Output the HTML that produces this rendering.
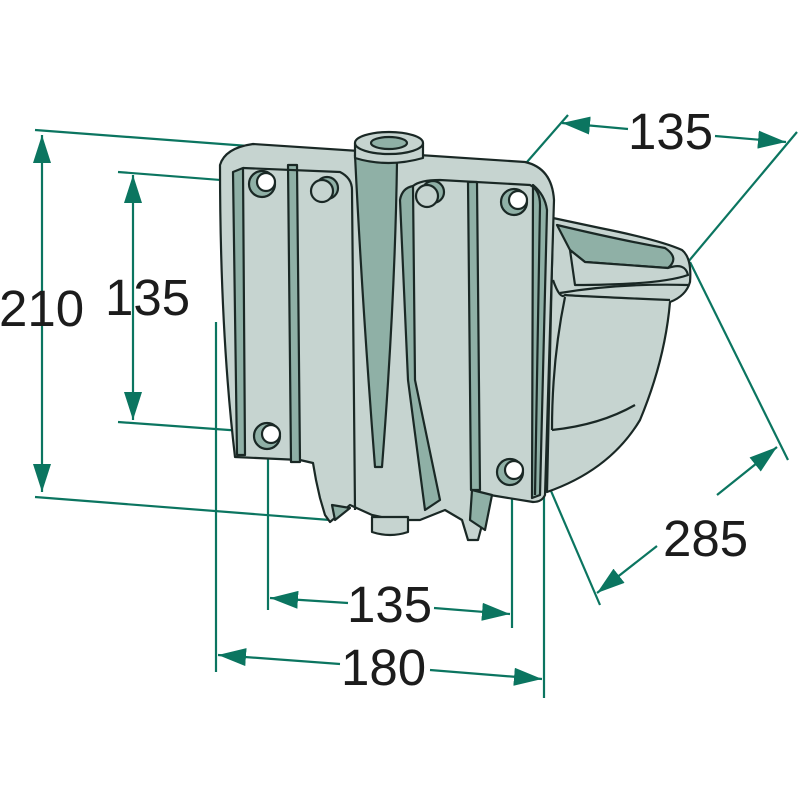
<!DOCTYPE html>
<html><head><style>body{margin:0;background:#fff}svg{display:block}</style></head><body>
<svg width="800" height="800" viewBox="0 0 800 800" xmlns="http://www.w3.org/2000/svg">
<defs>
<marker id="a" viewBox="0 0 28 18" refX="28" refY="9" markerWidth="28" markerHeight="18" markerUnits="userSpaceOnUse" orient="auto-start-reverse"><path d="M0,0 L28,9 L0,18 z" fill="#0b7560"/></marker>
</defs>
<g stroke="#0b7560" stroke-width="2.2" fill="none">
<line x1="35" y1="130" x2="262" y2="147"/>
<line x1="35" y1="497" x2="330" y2="520"/>
<line x1="42" y1="135" x2="42" y2="492" marker-start="url(#a)" marker-end="url(#a)"/>
<line x1="118" y1="172" x2="272" y2="184"/>
<line x1="118" y1="422" x2="270" y2="433"/>
<line x1="133" y1="175" x2="133" y2="420" marker-start="url(#a)" marker-end="url(#a)"/>
<line x1="268" y1="435" x2="268" y2="610"/>
<line x1="512" y1="468" x2="512" y2="628"/>
<line x1="270" y1="598" x2="348" y2="603" marker-start="url(#a)"/>
<line x1="434" y1="608" x2="510" y2="614" marker-end="url(#a)"/>
<line x1="216" y1="322" x2="216" y2="672"/>
<line x1="544" y1="492" x2="544" y2="698"/>
<line x1="218" y1="655" x2="340" y2="664" marker-start="url(#a)"/>
<line x1="430" y1="670" x2="542" y2="679" marker-end="url(#a)"/>
<line x1="527" y1="162" x2="568" y2="115"/>
<line x1="688" y1="262" x2="797" y2="132"/>
<line x1="562" y1="123" x2="628" y2="129" marker-start="url(#a)"/>
<line x1="715" y1="136" x2="786" y2="142" marker-end="url(#a)"/>
<line x1="690" y1="262" x2="788" y2="460"/>
<line x1="545" y1="477" x2="600" y2="605"/>
<line x1="597" y1="593" x2="657" y2="546" marker-start="url(#a)"/>
<line x1="717" y1="495" x2="777" y2="447" marker-end="url(#a)"/>
</g>
<g stroke="#1a2825" stroke-width="2.2" stroke-linejoin="round" fill="#c6d4d0">
<path d="M553,218 L600,228 Q660,240 682,250 Q692,258 690,282 Q686,296 670,302 Q665,360 640,420 Q610,470 547,492 Z"/>
<path d="M557,225 Q620,240 665,248 Q680,258 668,268 L585,262 L570,250 Z" fill="#8fb0a6"/>
<path d="M570,250 L585,262 L668,268 Q685,262 688,275 Q660,285 575,285 Z" fill="#c6d4d0"/>
<path d="M560,293 Q620,283 688,285" fill="none"/>
<path d="M553,280 Q560,300 565,295 Q575,296 670,300" fill="none"/>
<path d="M565,297 Q552,360 552,430" fill="none"/>
<path d="M552,430 Q600,425 635,405" fill="none"/>
<path d="M220,165 Q225,148 253,144 L525,162 Q552,168 554,200 L545,495 Q542,502 533,502 L490,495 L486,510 L478,540 L468,540 L462,520 L445,510 L420,520 L395,520 L372,515 L350,505 L330,522 L325,515 L320,498 L316,480 L313,463 L300,460 L235,457 Q220,330 220,165 Z"/>
<path d="M233,172 L243,168 L245,455 L237,455 Z" fill="#8fb0a6"/>
<path d="M288,165 L297,165 L300,462 L291,462 Z" fill="#8fb0a6"/>
<path d="M400,200 Q402,188 413,186 L415,380 L440,500 L425,510 L408,380 Z" fill="#8fb0a6"/>
<path d="M468,182 L477,182 L480,490 L471,490 Z" fill="#8fb0a6"/>
<path d="M533,185 Q545,195 547,210 L540,495 L532,498 Z" fill="#8fb0a6"/>
<path d="M243,168 L340,172 Q352,178 352,190 L355,510" fill="none"/>
<path d="M413,186 Q420,180 440,180 L530,185 Q540,190 540,205 L535,495" fill="none"/>
<path d="M355,155 L397,162 Q395,300 382,467 L375,467 Q362,300 355,155 Z" fill="#8fb0a6"/>
<path d="M355,143 L355,158 Q388,168 423,158 L423,143 Z"/>
<ellipse cx="389" cy="143" rx="34" ry="11"/>
<ellipse cx="389" cy="143" rx="18" ry="6" fill="#8fb0a6"/>
<circle cx="262" cy="184" r="13" fill="#8fb0a6"/><circle cx="266" cy="182" r="9" fill="#fff"/>
<circle cx="267" cy="436" r="13" fill="#8fb0a6"/><circle cx="271" cy="434" r="9" fill="#fff"/>
<circle cx="514" cy="202" r="13" fill="#8fb0a6"/><circle cx="518" cy="200" r="9" fill="#fff"/>
<circle cx="510" cy="472" r="13" fill="#8fb0a6"/><circle cx="514" cy="470" r="9" fill="#fff"/>
<circle cx="327" cy="188" r="11" fill="#8fb0a6"/><circle cx="322" cy="191" r="11"/>
<circle cx="433" cy="192" r="11" fill="#8fb0a6"/><circle cx="427" cy="196" r="11"/>
<path d="M372,517 L372,532 Q390,538 408,532 L408,517 Z"/>
<path d="M332,505 L350,508 L335,520 Z" fill="#8fb0a6"/>
<path d="M472,490 L492,495 L485,530 L470,520 Z" fill="#8fb0a6"/>
</g>
<g font-family="'Liberation Sans', sans-serif" font-size="51" fill="#1c1c1c">
<text x="-1" y="326">210</text>
<text x="105" y="315">135</text>
<text x="347" y="622">135</text>
<text x="341" y="685">180</text>
<text x="628" y="149">135</text>
<text x="663" y="556">285</text>
</g>
</svg>
</body></html>
